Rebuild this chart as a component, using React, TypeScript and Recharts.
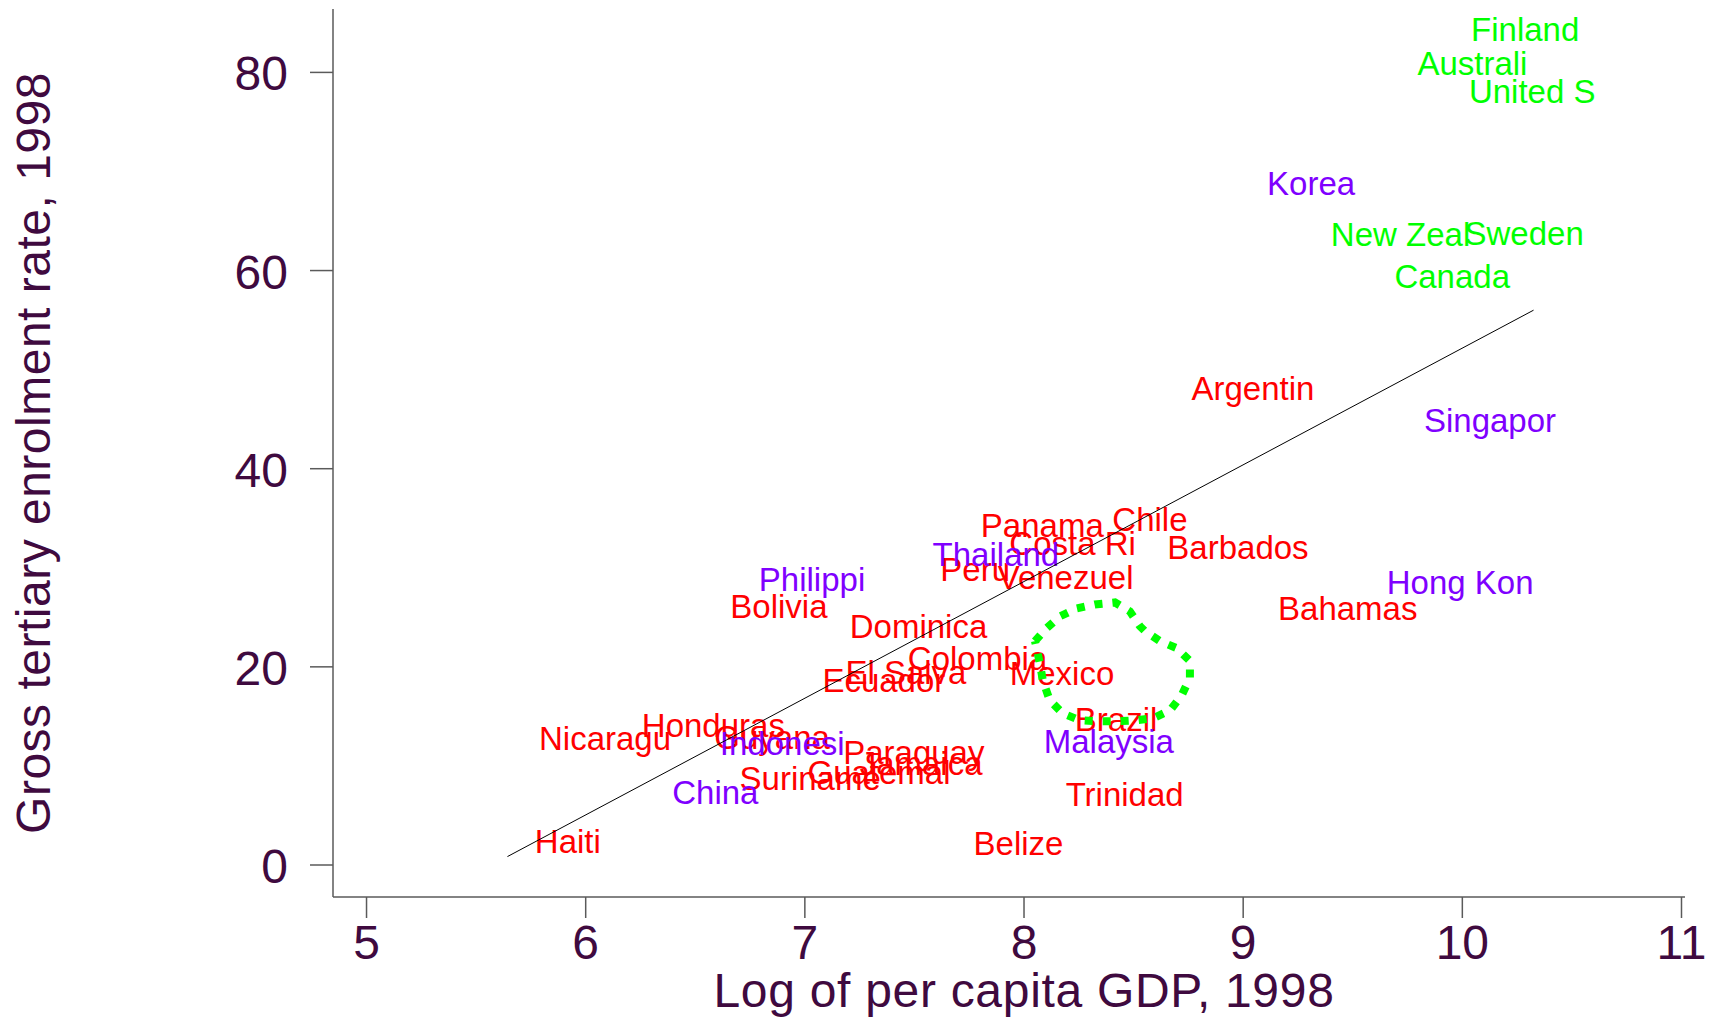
import { ComposedChart, Scatter, XAxis, YAxis } from 'recharts'

type Country = { country: string; gdp: number; enrol: number }

// label positions: gdp = left edge of label, enrol = vertical middle of label
const oecd: Country[] = [
    { country: 'Finland', gdp: 10.04, enrol: 84.4 },
    { country: 'Australi', gdp: 9.795, enrol: 80.9 },
    { country: 'United S', gdp: 10.03, enrol: 78.1 },
    { country: 'New Zeal', gdp: 9.4, enrol: 63.7 },
    { country: 'Sweden', gdp: 10.01, enrol: 63.8 },
    { country: 'Canada', gdp: 9.69, enrol: 59.4 },
]

const asia: Country[] = [
    { country: 'Korea', gdp: 9.109, enrol: 68.8 },
    { country: 'Singapor', gdp: 9.825, enrol: 44.9 },
    { country: 'Thailand', gdp: 7.583, enrol: 31.4 },
    { country: 'Philippi', gdp: 6.79, enrol: 28.9 },
    { country: 'Hong Kon', gdp: 9.655, enrol: 28.6 },
    { country: 'Indonesi', gdp: 6.612, enrol: 12.35 },
    { country: 'Malaysia', gdp: 8.09, enrol: 12.5 },
    { country: 'China', gdp: 6.395, enrol: 7.4 },
]

const latam: Country[] = [
    { country: 'Argentin', gdp: 8.764, enrol: 48.1 },
    { country: 'Panama', gdp: 7.803, enrol: 34.3 },
    { country: 'Chile', gdp: 8.403, enrol: 34.9 },
    { country: 'Costa Ri', gdp: 7.933, enrol: 32.5 },
    { country: 'Barbados', gdp: 8.654, enrol: 32.1 },
    { country: 'Peru', gdp: 7.618, enrol: 29.9 },
    { country: 'Venezuel', gdp: 7.88, enrol: 29.1 },
    { country: 'Bolivia', gdp: 6.66, enrol: 26.1 },
    { country: 'Bahamas', gdp: 9.159, enrol: 25.9 },
    { country: 'Dominica', gdp: 7.205, enrol: 24.1 },
    { country: 'Colombia', gdp: 7.47, enrol: 20.9 },
    { country: 'Mexico', gdp: 7.935, enrol: 19.4 },
    { country: 'El Salva', gdp: 7.185, enrol: 19.5 },
    { country: 'Ecuador', gdp: 7.08, enrol: 18.7 },
    { country: 'Brazil', gdp: 8.232, enrol: 14.7 },
    { country: 'Honduras', gdp: 6.256, enrol: 14.1 },
    { country: 'Nicaragu', gdp: 5.787, enrol: 12.85 },
    { country: 'Guyana', gdp: 6.587, enrol: 12.9 },
    { country: 'Paraguay', gdp: 7.175, enrol: 11.4 },
    { country: 'Jamaica', gdp: 7.25, enrol: 10.3 },
    { country: 'Guatemal', gdp: 7.012, enrol: 9.4 },
    { country: 'Suriname', gdp: 6.702, enrol: 8.75 },
    { country: 'Trinidad', gdp: 8.19, enrol: 7.2 },
    { country: 'Haiti', gdp: 5.768, enrol: 2.4 },
    { country: 'Belize', gdp: 7.77, enrol: 2.2 },
]

const fitLine = [
    { gdp: 5.643, enrol: 0.85 },
    { gdp: 10.325, enrol: 56.0 },
]

// hand drawn loop around Mexico / Brazil
const highlight = [
    { gdp: 8.05, enrol: 22.6 },
    { gdp: 8.103, enrol: 23.9 },
    { gdp: 8.164, enrol: 25.1 },
    { gdp: 8.24, enrol: 25.9 },
    { gdp: 8.323, enrol: 26.3 },
    { gdp: 8.415, enrol: 26.5 },
    { gdp: 8.483, enrol: 25.6 },
    { gdp: 8.529, enrol: 24.1 },
    { gdp: 8.552, enrol: 23.6 },
    { gdp: 8.62, enrol: 22.6 },
    { gdp: 8.696, enrol: 21.9 },
    { gdp: 8.757, enrol: 20.6 },
    { gdp: 8.757, enrol: 18.9 },
    { gdp: 8.719, enrol: 17.1 },
    { gdp: 8.666, enrol: 15.6 },
    { gdp: 8.588, enrol: 14.8 },
    { gdp: 8.506, enrol: 14.6 },
    { gdp: 8.422, enrol: 14.5 },
    { gdp: 8.337, enrol: 14.5 },
    { gdp: 8.255, enrol: 14.6 },
    { gdp: 8.177, enrol: 15.3 },
    { gdp: 8.118, enrol: 16.6 },
    { gdp: 8.086, enrol: 18.6 },
    { gdp: 8.072, enrol: 20.4 },
    { gdp: 8.05, enrol: 22.6 },
]

const xTicks = [5, 6, 7, 8, 9, 10, 11]
const yTicks = [0, 20, 40, 60, 80]

const FONT = '"Liberation Sans", Arial, Helvetica, sans-serif'
const INK = '#3f0a3f'
const AXIS = '#5a5a5a'

const countryLabel = (colour: string) => (props: any) => (
    <text
        x={props.cx}
        y={props.cy}
        dy={12}
        fill={colour}
        fontSize={33}
        fontFamily={FONT}
    >
        {props.payload.country}
    </text>
)

const NoDot = () => null

const XTick = ({ x, y, payload }: any) => (
    <text x={x} y={y} dy={41} textAnchor="middle" fill={INK} fontSize={48} fontFamily={FONT}>
        {payload.value}
    </text>
)

const YTick = ({ x, y, payload }: any) => (
    <text x={x - 22} y={y} dy={18} textAnchor="end" fill={INK} fontSize={48} fontFamily={FONT}>
        {payload.value}
    </text>
)

const XTitle = ({ viewBox }: any) => (
    <text
        x={viewBox.x + viewBox.width / 2 + 15}
        y={viewBox.y + viewBox.height - 11}
        textAnchor="middle"
        fill={INK}
        fontSize={48}
        letterSpacing={0.7}
        fontFamily={FONT}
    >
        Log of per capita GDP, 1998
    </text>
)

const YTitle = ({ viewBox }: any) => {
    const cx = viewBox.x + 50
    const cy = viewBox.y + viewBox.height / 2
    return (
        <text
            x={cx}
            y={cy}
            transform={`rotate(-90, ${cx}, ${cy})`}
            textAnchor="middle"
            fill={INK}
            fontSize={48}
            letterSpacing={0.5}
            fontFamily={FONT}
        >
            Gross tertiary enrolment rate, 1998
        </text>
    )
}

const App = () => {
    return (
        <div style={{ width: 1721, height: 1018, background: '#fff' }}>
            <style>{'body{margin:0}'}</style>
            <ComposedChart width={1721} height={1018} margin={{ top: 9, right: 36, bottom: 0, left: 0 }}>
                <XAxis
                    type="number"
                    dataKey="gdp"
                    domain={[4.847, 11.016]}
                    ticks={xTicks}
                    interval={0}
                    allowDataOverflow
                    height={121}
                    tickSize={21}
                    tickMargin={0}
                    stroke={AXIS}
                    strokeWidth={1.5}
                    tick={<XTick />}
                    label={<XTitle />}
                />
                <YAxis
                    type="number"
                    dataKey="enrol"
                    domain={[-3.23, 86.4]}
                    ticks={yTicks}
                    interval={0}
                    allowDataOverflow
                    width={333}
                    tickSize={23}
                    tickMargin={0}
                    stroke={AXIS}
                    strokeWidth={1.5}
                    tick={<YTick />}
                    label={<YTitle />}
                />
                <Scatter data={latam} shape={countryLabel('#ff0000')} isAnimationActive={false} />
                <Scatter data={asia} shape={countryLabel('#7f00ff')} isAnimationActive={false} />
                <Scatter data={oecd} shape={countryLabel('#00ff00')} isAnimationActive={false} />
                <Scatter
                    data={fitLine}
                    shape={NoDot}
                    line={{ stroke: '#000000', strokeWidth: 1 }}
                    isAnimationActive={false}
                />
                <Scatter
                    data={highlight}
                    shape={NoDot}
                    line={{ stroke: '#00ff00', strokeWidth: 8, strokeDasharray: '8 10', fill: 'none' }}
                    isAnimationActive={false}
                />
            </ComposedChart>
        </div>
    )
}

export default App
